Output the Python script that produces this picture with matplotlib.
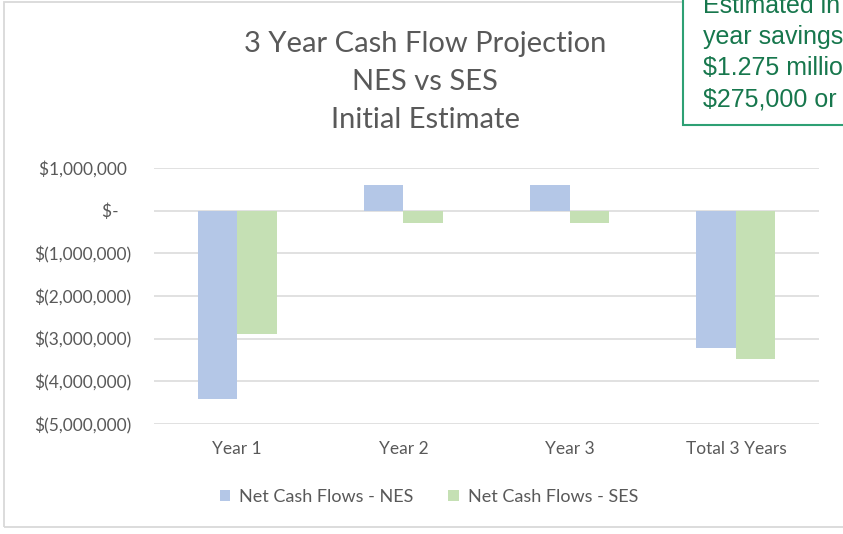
"""3 year cash flow projection, NES vs SES (initial estimate)."""
import matplotlib
matplotlib.use("Agg")
import matplotlib.pyplot as plt
from matplotlib.patches import Rectangle
import numpy as np

categories = ["Year 1", "Year 2", "Year 3", "Total 3 Years"]
nes_flows = [-4410000, 600000, 600000, -3210000]
ses_flows = [-2885000, -300000, -300000, -3485000]
series_names = ["Net Cash Flows - NES", "Net Cash Flows - SES"]
y_ticks = [1000000, 0, -1000000, -2000000, -3000000, -4000000, -5000000]
title_lines = ["3 Year Cash Flow Projection", "NES vs SES", "Initial Estimate"]
note_lines = ["Estimated in", "year savings", "$1.275 millio", "$275,000 or"]

W, H = 843, 534
GREY = "#595959"
plt.rcParams["font.family"] = ["Lato", "DejaVu Sans"]


def fx(px):
    return px / W


def fy(py):
    return 1 - py / H


def money(v):
    if v == 0:
        return "$-   "
    if v < 0:
        return f"$({-v:,.0f})"
    return f"${v:,.0f} "


fig = plt.figure(figsize=(W / 100, H / 100), dpi=100)
ax = fig.add_axes([fx(154), fy(424), fx(819) - fx(154), fy(168) - fy(424)])

x = np.arange(len(categories))
w = 0.238
ax.bar(x - w / 2, nes_flows, w, color="#b4c7e7", label=series_names[0], zorder=3)
ax.bar(x + w / 2, ses_flows, w, color="#c5e0b4", label=series_names[1], zorder=3)

ax.set_xlim(-0.5, len(categories) - 0.5)
ax.set_ylim(-5000000, 1000000)
ax.set_yticks(y_ticks)
ax.set_yticklabels([money(v) for v in y_ticks])
ax.set_xticks(x)
ax.set_xticklabels(categories)
ax.tick_params(length=0, labelsize=12.5, labelcolor=GREY)
ax.tick_params(axis="y", pad=16)
ax.tick_params(axis="x", pad=12)
ax.grid(axis="y", color="#d9d9d9", lw=1.1, zorder=0)
for s in ax.spines.values():
    s.set_visible(False)

# title, one line at a time
for line, base in zip(title_lines, [52, 90, 128]):
    fig.text(fx(425), fy(base), line, ha="center", va="baseline",
             fontsize=21, color=GREY)

fig.legend(loc="center", bbox_to_anchor=(fx(429), fy(497)), ncol=2,
           frameon=False, fontsize=13, labelcolor=GREY,
           handlelength=0.6, handleheight=0.6, handletextpad=0.5,
           columnspacing=1.9)

# chart outline
fig.add_artist(Rectangle((fx(4), fy(527)), 1.2, fy(2) - fy(527),
                         transform=fig.transFigure, fill=False,
                         edgecolor="#d9d9d9", lw=1.3, zorder=1))

# overlapping note box, cut off at the figure edge
fig.add_artist(Rectangle((fx(683), fy(125)), 0.5, 0.5,
                         transform=fig.transFigure, facecolor="white",
                         edgecolor="#2ea074", lw=1.5, zorder=5))
for line, base in zip(note_lines, [13, 44, 75, 106]):
    fig.text(fx(703), fy(base), line, ha="left", va="baseline",
             fontsize=18, color="#17774d", family=["Liberation Sans"],
             zorder=6)

fig.savefig("out.png", dpi=100)
